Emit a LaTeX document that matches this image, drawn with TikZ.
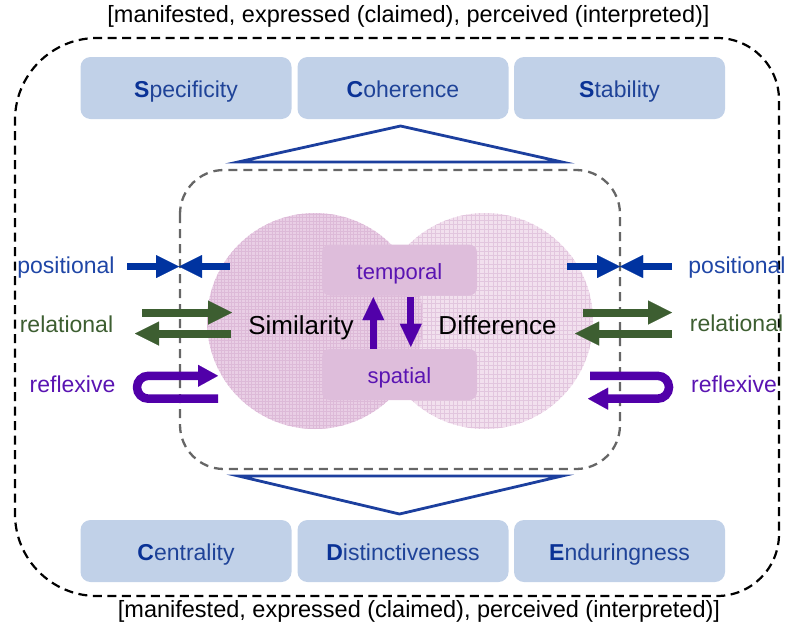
\documentclass[tikz,border=0pt]{standalone}
\usepackage{fontspec}
\setmainfont{Liberation Sans}
\usetikzlibrary{arrows.meta}

\definecolor{idfill}{HTML}{C1D1E8}
\definecolor{idtext}{HTML}{1F4398}
\definecolor{idbold}{HTML}{0A3296}
\definecolor{triblue}{HTML}{1C3F9E}
\definecolor{posblue}{HTML}{0033A0}
\definecolor{posfont}{HTML}{1F46A6}
\definecolor{relgreen}{HTML}{3D5E31}
\definecolor{refpurple}{HTML}{5100A9}
\definecolor{reftext}{HTML}{5A14B2}
\definecolor{circA}{HTML}{E9CEE5}
\definecolor{circB}{HTML}{F2E0EE}
\definecolor{gridA}{HTML}{DDBAD8}
\definecolor{gridB}{HTML}{E2C6DE}
\definecolor{tsbox}{HTML}{DEBDDB}
\definecolor{dashgray}{HTML}{666666}

\newcommand{\initial}[1]{\textbf{\color{idbold}#1}}

\begin{document}
\begin{tikzpicture}[x=1pt,y=-1pt,
  idbox/.style={fill=idfill, rounded corners=10pt, minimum width=211pt,
    minimum height=62pt, inner sep=0pt, text=idtext,
    text height=21pt, text depth=3pt, font=\fontsize{23}{27}\selectfont},
  tsnode/.style={fill=tsbox, rounded corners=8pt, minimum width=155pt,
    minimum height=51pt, inner sep=0pt, text=reftext,
    text height=21pt, text depth=3pt, font=\fontsize{22}{26}\selectfont},
  scope label/.style={anchor=base, font=\fontsize{23.5}{28}\selectfont, text=black},
  side label/.style={anchor=base, font=\fontsize{23}{27}\selectfont},
  pole label/.style={anchor=base, font=\fontsize{26}{30}\selectfont, text=black},
  posarrow/.style={draw=posblue, line width=7.5pt,
    -{Triangle[length=23pt,width=23pt,line width=0.01pt]}},
  relarrow/.style={draw=relgreen, line width=8pt,
    -{Triangle[length=24pt,width=24pt,line width=0.01pt]}},
  refarrow/.style={draw=refpurple, line width=8.5pt, rounded corners=11.4pt,
    -{Triangle[length=20pt,width=22pt,line width=0.01pt]}},
  tsarrow/.style={draw=refpurple, line width=6.7pt,
    -{Triangle[length=23pt,width=22pt,line width=0.01pt]}},
  facet/.style={draw=triblue, line width=2.8pt, line join=miter}
]
\useasboundingbox (0,0) rectangle (791,624);

% outer frame
\draw[black, line width=2.2pt, dash pattern=on 9pt off 5.5pt]
  (400,38) [rounded corners=62pt] -- (779,38) -- (779,596) -- (400,596)
  [rounded corners=82pt] -- (15,596) -- (15,38) -- cycle;

% scope labels
\node[scope label] (scopetop) at (408.5,22) {[manifested, expressed (claimed), perceived (interpreted)]};
\node[scope label] (scopebot) at (419,617) {[manifested, expressed (claimed), perceived (interpreted)]};

% identity dimensions
\node[idbox] (spec) at (186,88) {\initial{S}pecificity};
\node[idbox] (coh)  at (403,88) {\initial{C}oherence};
\node[idbox] (stab) at (619.5,88) {\initial{S}tability};
\node[idbox] (cent) at (186,551) {\initial{C}entrality};
\node[idbox] (dist) at (403,551) {\initial{D}istinctiveness};
\node[idbox] (endu) at (619.5,551) {\initial{E}nduringness};

% facet triangles
\draw[facet] (238,162) -- (400.5,126) -- (562,162) -- cycle;
\draw[facet] (238.5,476) -- (399.5,514) -- (562,476) -- cycle;

% overlapping circles with a fine grid
\fill[circB] (485,321) circle[radius=108pt];
\begin{scope}
  \clip (485,321) circle[radius=108pt];
  \draw[gridB, line width=0.5pt, step=4.4pt] (370,205) grid (600,440);
\end{scope}
\fill[circA] (315,321) circle[radius=108pt];
\begin{scope}
  \clip (315,321) circle[radius=108pt];
  \draw[gridA, line width=0.4pt, step=3.4pt] (200,205) grid (430,440);
\end{scope}

% inner frame
\draw[dashgray, line width=2.3pt, dash pattern=on 9pt off 6pt, rounded corners=44pt]
  (180,170) rectangle (620,469);

% poles
\node[pole label] (sim) at (301,334.3) {Similarity};
\node[pole label] (diff) at (497.5,334.3) {Difference};

% temporal / spatial
\node[tsnode] (temp) at (399.5,270) {temporal};
\node[tsnode] (spat) at (399.5,374.5) {spatial};
\coordinate (upx) at (373.3,0);
\coordinate (dnx) at (410.8,0);
\draw[tsarrow] (spat.north -| upx) -- ([yshift=-1.5pt]temp.south -| upx);
\draw[tsarrow, shorten >=2pt] ([yshift=-1.5pt]temp.south -| dnx) -- (spat.north -| dnx);

% side labels
\node[side label, text=posfont] (posL) at (66,273) {positional};
\node[side label, text=relgreen] (relL) at (66.5,332) {relational};
\node[side label, text=reftext] (refL) at (72.5,392) {reflexive};
\node[side label, text=posfont] (posR) at (737,273) {positional};
\node[side label, text=relgreen] (relR) at (736.5,331) {relational};
\node[side label, text=reftext] (refR) at (734,392) {reflexive};

% positional arrows
\coordinate (pL1) at (127,266.5);
\coordinate (pLm) at (179,266.5);
\coordinate (pL2) at (230,266.5);
\coordinate (pR1) at (567,266.5);
\coordinate (pRm) at (620,266.5);
\coordinate (pR2) at (672,266.5);
\draw[posarrow] (pL1) -- (pLm);
\draw[posarrow] (pL2) -- (pLm);
\draw[posarrow] (pR1) -- (pRm);
\draw[posarrow] (pR2) -- (pRm);

% relational arrows
\coordinate (rL1a) at (142,312.5);
\coordinate (rL1b) at (232,312.5);
\coordinate (rL2a) at (231,333.5);
\coordinate (rL2b) at (135,333.5);
\coordinate (rR1a) at (583,312.5);
\coordinate (rR1b) at (672,312.5);
\coordinate (rR2a) at (672,333.5);
\coordinate (rR2b) at (575,333.5);
\draw[relarrow] (rL1a) -- (rL1b);
\draw[relarrow] (rL2a) -- (rL2b);
\draw[relarrow] (rR1a) -- (rR1b);
\draw[relarrow] (rR2a) -- (rR2b);

% reflexive loops
\coordinate (fL1) at (218,398.7);
\coordinate (fL2) at (218,375.8);
\coordinate (fR1) at (590,375.8);
\coordinate (fR2) at (588,398.7);
\draw[refarrow] (fL1) -- (137,398.7) -- (137,375.8) -- (fL2);
\draw[refarrow] (fR1) -- (669,375.8) -- (669,398.7) -- (fR2);
\end{tikzpicture}
\end{document}
